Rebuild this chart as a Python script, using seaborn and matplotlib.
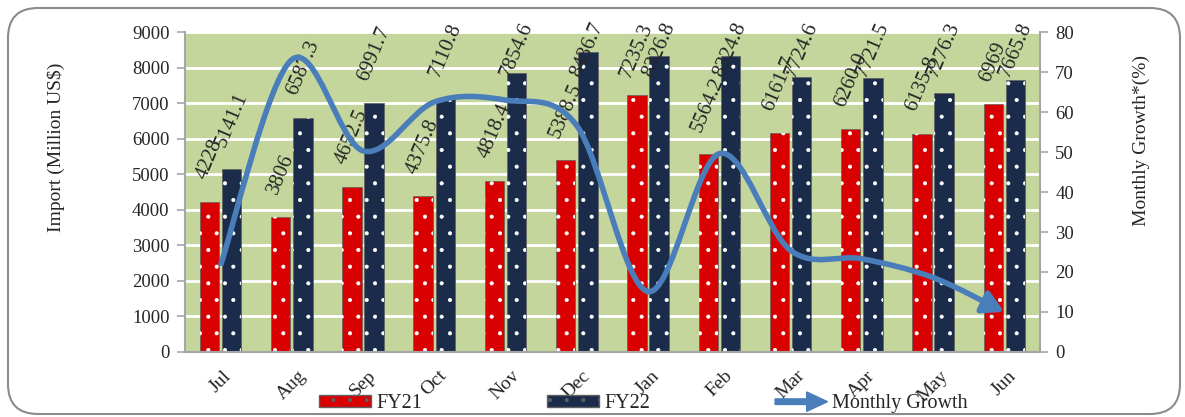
import numpy as np
import pandas as pd
import matplotlib
matplotlib.use("Agg")
import matplotlib.pyplot as plt
import matplotlib.patches as mpatches
from matplotlib.path import Path
from matplotlib.legend_handler import HandlerPatch
import seaborn as sns

# Monthly import data
months = ["Jul", "Aug", "Sep", "Oct", "Nov", "Dec", "Jan", "Feb", "Mar", "Apr", "May", "Jun"]
fy21 = [4228, 3806, 4652.5, 4375.8, 4818.4, 5388.5, 7235.3, 5564.2, 6161.7, 6260.0, 6135.8, 6969]
fy22 = [5141.1, 6587.3, 6991.7, 7110.8, 7854.6, 8436.7, 8326.8, 8324.8, 7724.6, 7721.5, 7276.3, 7665.8]
fy21_labels = ["4228", "3806", "4652.5", "4375.8", "4818.4", "5388.5", "7235.3", "5564.2", "6161.7", "6260.0", "6135.8", "6969"]
fy22_labels = ["5141.1", "6587.3", "6991.7", "7110.8", "7854.6", "8436.7", "8326.8", "8324.8", "7724.6", "7721.5", "7276.3", "7665.8"]
growth = [21.6, 73.1, 50.3, 62.5, 63.0, 56.6, 15.1, 49.6, 25.4, 23.3, 18.6, 10.0]

sns.set_style("white")
plt.rcParams["font.family"] = ["Liberation Serif", "DejaVu Serif"]
plt.rcParams["hatch.linewidth"] = 0.5

red = "#D80000"
navy = "#1A2C4A"
green = "#C4D69C"
blue = "#4A7EBB"
grey = "#A6A6A6"

df = pd.DataFrame({
    "Month": months * 2,
    "Import": fy21 + fy22,
    "Year": ["FY21"] * 12 + ["FY22"] * 12,
})

fig = plt.figure(figsize=(11.85, 4.17), dpi=100)
ax = fig.add_axes([0.156, 0.156, 0.7216, 0.767])
ax.set_facecolor(green)

sns.barplot(data=df, x="Month", y="Import", hue="Year", palette=[red, navy], saturation=1,
            width=0.62, gap=0.12, ax=ax, legend=False, edgecolor="#606060", linewidth=0.5)

# white dotted pattern on top of every bar
for bar in list(ax.patches):
    ax.add_patch(mpatches.Rectangle(bar.get_xy(), bar.get_width(), bar.get_height(),
                                    fill=False, hatch=".", edgecolor="white", lw=0, zorder=bar.get_zorder() + 0.1))

anns = []
for cont, labs in zip(ax.containers, [fy21_labels, fy22_labels]):
    anns += ax.bar_label(cont, labels=labs, padding=14, rotation=67, fontsize=15)

ax.set_xlim(-0.5, 11.5)
ax.set_ylim(0, 9000)
ax.set_yticks(range(0, 9001, 1000))
ax.yaxis.grid(True, color="white", lw=2)
ax.set_axisbelow(True)
ax.set_xlabel("")
ax.set_ylabel("Import (Million US$)", fontsize=14)
ax.yaxis.set_label_coords(-0.140, 0.64)
ax.set_xticks(range(12))
ax.set_xticklabels(months, rotation=45, ha="center", fontsize=14)
ax.set_xticks(np.arange(-0.5, 12, 1), minor=True)
ax.tick_params(axis="x", which="major", length=0, pad=11)
ax.tick_params(axis="x", which="minor", length=6, color=grey, width=1.2, direction="out")
ax.tick_params(axis="y", length=6, color=grey, width=1.2, direction="out", labelsize=13.5, pad=5)
for s in ["left", "bottom"]:
    ax.spines[s].set_color(grey)
    ax.spines[s].set_linewidth(1.5)
ax.spines["top"].set_visible(False)
ax.spines["right"].set_visible(False)

# monthly growth on the right axis, smoothed line ending in an arrow
ax2 = ax.twinx()
ax2.set_ylim(0, 80)
ax2.set_yticks(range(0, 81, 10))
ax2.tick_params(axis="y", length=6, color=grey, width=1.2, direction="out", labelsize=13.5, pad=5)
ax2.set_ylabel("Monthly Growth*(%)", fontsize=14)
ax2.yaxis.set_label_coords(1.108, 0.66)
for s in ["left", "top", "bottom"]:
    ax2.spines[s].set_visible(False)
ax2.spines["right"].set_color(grey)
ax2.spines["right"].set_linewidth(1.5)

pts = np.column_stack([np.arange(12), growth])
ext = np.vstack([pts[0], pts, pts[-1]])
verts = [pts[0]]
codes = [Path.MOVETO]
for i in range(1, len(ext) - 2):
    c1 = ext[i] + (ext[i + 1] - ext[i - 1]) / 6
    c2 = ext[i + 1] - (ext[i + 2] - ext[i]) / 6
    verts += [c1, c2, ext[i + 1]]
    codes += [Path.CURVE4] * 3
curve = mpatches.FancyArrowPatch(path=Path(verts, codes), arrowstyle="-|>,head_length=0.9,head_width=0.5",
                                 color=blue, lw=4, mutation_scale=14, shrinkA=0, shrinkB=0,
                                 transform=ax2.transData, joinstyle="round", capstyle="butt")
ax2.add_patch(curve)


def make_arrow(legend, orig_handle, xdescent, ydescent, width, height, fontsize):
    return mpatches.FancyArrow(0, height / 2, width, 0, width=4, head_width=14, head_length=15,
                               length_includes_head=True, color=blue)


handles = [
    mpatches.Patch(facecolor=red, edgecolor="#606060", hatch="."),
    mpatches.Patch(facecolor=navy, edgecolor="#606060", hatch="."),
    mpatches.Patch(color=blue),
]
fig.legend(handles, ["FY21", "FY22", "Monthly Growth"], loc="center", bbox_to_anchor=(0.543, 0.033),
           ncol=3, frameon=False, fontsize=14.5, handlelength=2.6, handleheight=0.55,
           columnspacing=6.2, handletextpad=0.25,
           handler_map={handles[2]: HandlerPatch(patch_func=make_arrow)})

fig.add_artist(mpatches.FancyBboxPatch((8, 3), 1172, 406, boxstyle="round,pad=0,rounding_size=30",
                                       transform=None, facecolor="none", edgecolor="#8c8c8c", lw=1.5))

# keep tall value labels inside the chart, as the spreadsheet does
fig.canvas.draw()
limit = fig.bbox.height - 20
for a in anns:
    bb = a.get_window_extent()
    if bb.y1 > limit:
        dx, dy = a.xyann
        a.xyann = (dx, dy - (bb.y1 - limit) * 72 / fig.dpi)

fig.savefig("out.png", dpi=100)
